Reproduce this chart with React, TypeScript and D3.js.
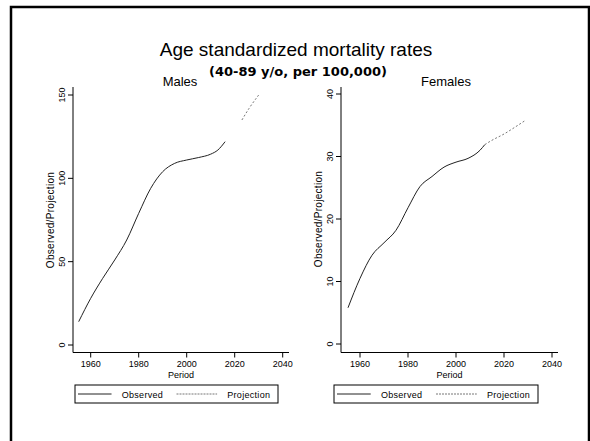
import React from "react";
import * as d3 from "d3";

// ---------- data ----------
const maleObsYears = [1955, 1960, 1965, 1970, 1975, 1980, 1985, 1990, 1995, 2000, 2005, 2010, 2013, 2016];
const maleObsValues = [14, 28, 40, 51, 63, 79, 94, 104, 109, 111, 112.5, 114.5, 117, 122];
const maleProjYears = [2023, 2026, 2030];
const maleProjValues = [135, 142, 150];

const femaleObsYears = [1955, 1960, 1965, 1970, 1975, 1980, 1985, 1990, 1995, 2000, 2005, 2010, 2012];
const femaleObsValues = [5.8, 10.5, 14.2, 16.2, 18.2, 21.8, 25.2, 26.8, 28.3, 29.1, 29.7, 31.0, 31.9];
const femaleProjYears = [2012, 2015, 2020, 2025, 2029];
const femaleProjValues = [31.9, 32.6, 33.6, 34.8, 35.8];

const xTicks = [1960, 1980, 2000, 2020, 2040];
const maleYTicks = [0, 50, 100, 150];
const femaleYTicks = [0, 10, 20, 30, 40];

const titleText = "Age standardized mortality rates";
const subtitleText = "(40-89 y/o, per 100,000)";
const panelTitles = ["Males", "Females"];
const yAxisTitle = "Observed/Projection";
const xAxisTitle = "Period";
const legendLabels = ["Observed", "Projection"];

const FONT = "'Liberation Sans', Arial, sans-serif";

type PanelProps = {
  left: number;
  x1960: number;
  x2040: number;
  axisRight: number;
  yMax: number;
  yTicks: number[];
  obsX: number[];
  obsY: number[];
  projX: number[];
  projY: number[];
  legendLeft: number;
  legendRight: number;
  y0: number;
  yTop: number;
  xAxisY: number;
};

function Panel(p: PanelProps) {
  const x = d3.scaleLinear().domain([1960, 2040]).range([p.x1960, p.x2040]);
  const y = d3.scaleLinear().domain([0, p.yMax]).range([p.y0, p.yTop]);
  const line = d3
    .line<[number, number]>()
    .x((d) => x(d[0]))
    .y((d) => y(d[1]))
    .curve(d3.curveMonotoneX);
  const obs = p.obsX.map((v, i) => [v, p.obsY[i]] as [number, number]);
  const proj = p.projX.map((v, i) => [v, p.projY[i]] as [number, number]);
  const axisTop = 87;
  const midX = (p.left + p.axisRight) / 2;
  const lw = p.legendRight - p.legendLeft;
  return (
    <g>
      {/* axes */}
      <line x1={p.left} x2={p.left} y1={axisTop} y2={p.xAxisY} stroke="#000" strokeWidth={1} />
      <line x1={p.left} x2={p.axisRight} y1={p.xAxisY} y2={p.xAxisY} stroke="#000" strokeWidth={1} />
      {p.yTicks.map((t) => (
        <g key={"y" + t}>
          <line x1={p.left - 5} x2={p.left} y1={y(t)} y2={y(t)} stroke="#000" />
          <text
            transform={`translate(${p.left - 8},${y(t)}) rotate(-90)`}
            textAnchor="middle"
            fontSize={9}
            fontFamily={FONT}
          >
            {t}
          </text>
        </g>
      ))}
      {xTicks.map((t) => (
        <g key={"x" + t}>
          <line x1={x(t)} x2={x(t)} y1={p.xAxisY} y2={p.xAxisY + 5} stroke="#000" />
          <text x={x(t)} y={367} textAnchor="middle" fontSize={9} fontFamily={FONT}>
            {t}
          </text>
        </g>
      ))}
      <text x={midX} y={378} textAnchor="middle" fontSize={9} fontFamily={FONT}>
        {xAxisTitle}
      </text>
      <text
        transform={`translate(${p.left - 19},${(p.y0 + p.yTop) / 2}) rotate(-90)`}
        textAnchor="middle"
        fontSize={10}
        fontFamily={FONT}
        letterSpacing={0.3}
      >
        {yAxisTitle}
      </text>
      {/* lines */}
      <path d={line(obs) || ""} fill="none" stroke="#222" strokeWidth={1} />
      <path d={line(proj) || ""} fill="none" stroke="#777" strokeWidth={1} strokeDasharray="2,2" />
      {/* legend */}
      <rect x={p.legendLeft} y={385} width={lw} height={18} fill="#fff" stroke="#000" strokeWidth={1} />
      <line x1={p.legendLeft + 3} x2={p.legendLeft + 0.18 * lw} y1={394} y2={394} stroke="#222" />
      <text x={p.legendLeft + 0.23 * lw} y={397.5} fontSize={9} fontFamily={FONT} letterSpacing={0.3}>
        {legendLabels[0]}
      </text>
      <line
        x1={p.legendLeft + 0.5 * lw}
        x2={p.legendLeft + 0.7 * lw}
        y1={394}
        y2={394}
        stroke="#777"
        strokeDasharray="2,1"
      />
      <text x={p.legendLeft + 0.75 * lw} y={397.5} fontSize={9} fontFamily={FONT} letterSpacing={0.3}>
        {legendLabels[1]}
      </text>
    </g>
  );
}

export default function App() {
  return (
    <svg
      width={590}
      height={441}
      style={{ position: "absolute", left: 0, top: 0, background: "#fff" }}
    >
      <rect x={0} y={0} width={590} height={441} fill="#fff" />
      {/* frame */}
      <path d="M11,441 L11,7 L589,7 L589,441" fill="none" stroke="#000" strokeWidth={2.5} />
      <text x={296} y={56} textAnchor="middle" fontSize={19} fontFamily={FONT}>
        {titleText}
      </text>
      <text
        x={298}
        y={76}
        textAnchor="middle"
        fontSize={13}
        fontWeight="bold"
        fontFamily="'DejaVu Sans', sans-serif"
      >
        {subtitleText}
      </text>
      <text x={180} y={86} textAnchor="middle" fontSize={13} fontFamily={FONT}>
        {panelTitles[0]}
      </text>
      <text x={446} y={86} textAnchor="middle" fontSize={13} fontFamily={FONT}>
        {panelTitles[1]}
      </text>
      <Panel
        left={73}
        x1960={90.7}
        x2040={282.7}
        axisRight={289}
        yMax={150}
        yTicks={maleYTicks}
        obsX={maleObsYears}
        obsY={maleObsValues}
        projX={maleProjYears}
        projY={maleProjValues}
        legendLeft={75}
        legendRight={278}
        y0={345}
        yTop={95}
        xAxisY={352.5}
      />
      <Panel
        left={341}
        x1960={360}
        x2040={552}
        axisRight={558}
        yMax={40}
        yTicks={femaleYTicks}
        obsX={femaleObsYears}
        obsY={femaleObsValues}
        projX={femaleProjYears}
        projY={femaleProjValues}
        legendLeft={334}
        legendRight={538}
        y0={344}
        yTop={94}
        xAxisY={352.5}
      />
    </svg>
  );
}
